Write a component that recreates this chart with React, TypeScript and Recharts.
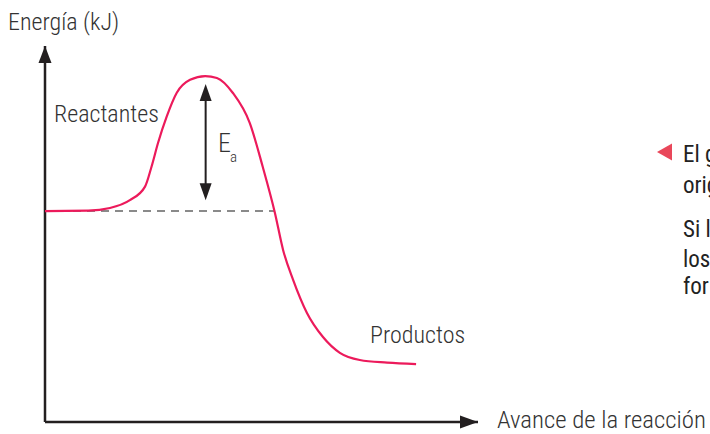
import React from 'react';
import { LineChart, Line, XAxis, YAxis, ReferenceLine, ReferenceDot } from 'recharts';

// reaction progress (arbitrary units) and energy (arbitrary units)
const progress = [0, 10, 15, 19.6, 23.1, 24.6, 26.1, 28.1, 30.4, 33.5, 37, 39.7, 43.4, 47.3, 50.3, 53.1, 55, 57.3, 60.5, 64.2, 68.1, 72.7, 79, 85.7];
const energy = [56.1, 56.2, 56.9, 59, 62.6, 67.9, 74.2, 81.2, 87.5, 91, 92, 91.5, 87.5, 79.5, 67.8, 55.6, 45.7, 37.8, 29, 22.6, 18.4, 16.5, 15.8, 15.4];

const reactantLevel = 56.1;
const dashEnd = 53.1;
const eaX = 37.1;
const eaTop = 89.9;
const eaBottom = 59;

const data = progress.map((x, i) => ({ x, e: energy[i] }));

const INK = '#231f20';
const CURVE = '#ec1a5b';
const FONT = "'Liberation Sans Narrow', 'Roboto Condensed', 'Arial Narrow', sans-serif";

// arrow with two heads, drawn from the reference line's own coordinates
const DoubleArrow = (props: any) => {
  const { x1, y1, x2, y2 } = props;
  const top = Math.min(y1, y2);
  const bot = Math.max(y1, y2);
  return (
    <g>
      <line x1={x1} y1={top + 14} x2={x2} y2={bot - 14} stroke={INK} strokeWidth={2} />
      <polygon points={`${x1},${top} ${x1 - 6},${top + 17} ${x1 + 6},${top + 17}`} fill={INK} />
      <polygon points={`${x1},${bot} ${x1 - 6},${bot - 17} ${x1 + 6},${bot - 17}`} fill={INK} />
    </g>
  );
};

const UpHead = (props: any) => {
  const { cx, cy } = props;
  return <polygon points={`${cx},${cy} ${cx - 6.5},${cy + 17} ${cx + 6.5},${cy + 17}`} fill={INK} />;
};

const RightHead = (props: any) => {
  const { cx, cy } = props;
  return <polygon points={`${cx},${cy} ${cx - 18},${cy - 6.5} ${cx - 18},${cy + 6.5}`} fill={INK} />;
};

const App: React.FC = () => {
  return (
    <div style={{ position: 'fixed', left: 0, top: 0, width: 710, height: 434, background: '#fff', overflow: 'hidden' }}>
      <LineChart width={710} height={434} data={data} margin={{ top: 46, right: 232, bottom: 12, left: 45 }}>
        <XAxis dataKey="x" type="number" domain={[0, 100]} hide />
        <YAxis type="number" domain={[0, 100]} hide />
        <ReferenceLine
          segment={[{ x: 0, y: reactantLevel }, { x: dashEnd, y: reactantLevel }]}
          stroke="#8a8a8a"
          strokeWidth={2}
          strokeDasharray="8 6"
        />
        <ReferenceLine x={0} stroke={INK} strokeWidth={2.5} ifOverflow="visible" />
        <ReferenceLine y={0} stroke={INK} strokeWidth={2.5} ifOverflow="visible" />
        <Line
          type="monotone"
          dataKey="e"
          stroke={CURVE}
          strokeWidth={2.2}
          dot={false}
          isAnimationActive={false}
        />
        <ReferenceLine
          segment={[{ x: eaX, y: eaBottom }, { x: eaX, y: eaTop }]}
          shape={DoubleArrow}
        />
        <ReferenceDot x={0} y={100} r={0} shape={UpHead} ifOverflow="visible" />
        <ReferenceDot x={100} y={0} r={0} shape={RightHead} ifOverflow="visible" />
      </LineChart>
      <svg width={710} height={434} style={{ position: 'absolute', left: 0, top: 0, pointerEvents: 'none' }}>
        <g fontFamily={FONT} fill="#333" fontSize={24} fontWeight={300}>
          <text x={8} y={30}>Energía (kJ)</text>
          <text x={54} y={122}>Reactantes</text>
          <text x={370} y={343}>Productos</text>
          <text x={497} y={428} fontSize={24.8}>Avance de la reacción</text>
          <text x={218} y={152} fontSize={26}>E</text>
          <text x={230} y={162} fontSize={15}>a</text>
        </g>
        <polygon points="657,152 672,143.5 672,160.5" fill="#e9475a" />
        <g fontFamily={FONT} fill="#222" fontSize={23}>
          <text x={683} y={162}>El g</text>
          <text x={683} y={193}>orig</text>
          <text x={683} y={237}>Si l</text>
          <text x={683} y={267}>los</text>
          <text x={683} y={294}>for</text>
        </g>
      </svg>
    </div>
  );
};

export default App;
